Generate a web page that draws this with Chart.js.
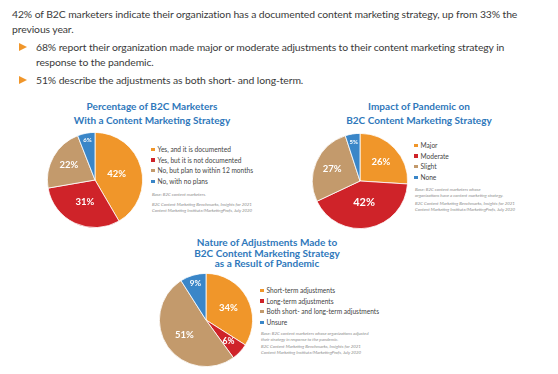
<!DOCTYPE html>
<html>
<head>
<meta charset="utf-8">
<script src="https://cdn.jsdelivr.net/npm/chart.js@4"></script>
<style>
  html, body { margin: 0; padding: 0; background: #fff; }
  body { width: 558px; height: 374px; position: relative; overflow: hidden; font-family: Lato, "Open Sans", sans-serif; color: #3a3a3a; }
  .abs { position: absolute; }
  .intro { left: 12px; top: 7px; font-size: 10.4px; letter-spacing: -0.1px; line-height: 15px; white-space: nowrap; }
  .bullet { left: 36px; font-size: 10.4px; letter-spacing: -0.1px; line-height: 15px; white-space: nowrap; }
  .tri { position: absolute; left: -17px; top: 3px; width: 0; height: 0;
         border-top: 4.5px solid transparent; border-bottom: 4.5px solid transparent; border-left: 8px solid #f0962a; }
  .title { color: #2f78bb; font-weight: bold; font-size: 10px; line-height: 13.5px; text-align: center; }
  .legend { font-size: 6.6px; line-height: 10.7px; color: #444; }
  .legend .sw { display: inline-block; width: 3.5px; height: 3.5px; margin-right: 3px; vertical-align: 1px; }
  .note { font-size: 4.4px; line-height: 6.2px; color: #8a8a8a; font-style: italic; }
  canvas { position: absolute; }
</style>
</head>
<body>
<div class="abs intro">42% of B2C marketers indicate their organization has a documented content marketing strategy, up from 33% the<br>previous year.</div>
<div class="abs bullet" style="top:40px"><span class="tri"></span>68% report their organization made major or moderate adjustments to their content marketing strategy in<br>response to the pandemic.</div>
<div class="abs bullet" style="top:73px"><span class="tri"></span>51% describe the adjustments as both short- and long-term.</div>

<div class="abs title" style="left:52px; width:200px; top:100px">Percentage of B2C Marketers<br>With a Content Marketing Strategy</div>
<div class="abs title" style="left:319px; width:200px; top:100px">Impact of Pandemic on<br>B2C Content Marketing Strategy</div>
<div class="abs title" style="left:167px; width:200px; top:237px; line-height:10.5px">Nature of Adjustments Made to<br>B2C Content Marketing Strategy<br>as a Result of Pandemic</div>

<canvas id="pie1" width="96" height="96" style="left:47px; top:132px"></canvas>
<canvas id="pie2" width="96" height="96" style="left:312px; top:133px"></canvas>
<canvas id="pie3" width="94" height="94" style="left:159px; top:273px"></canvas>

<div id="leg1" class="abs legend" style="left:151px; top:144px"></div>
<div class="abs note" style="left:152px; top:192px">Base: B2C content marketers.</div>
<div class="abs note" style="left:152px; top:202px">B2C Content Marketing Benchmarks, Insights for 2021<br>Content Marketing Institute/MarketingProfs, July 2020</div>

<div id="leg2" class="abs legend" style="left:414px; top:140px"></div>
<div class="abs note" style="left:415px; top:187px">Base: B2C content marketers whose<br>organizations have a content marketing strategy.</div>
<div class="abs note" style="left:415px; top:201px">B2C Content Marketing Benchmarks, Insights for 2021<br>Content Marketing Institute/MarketingProfs, July 2020</div>

<div id="leg3" class="abs legend" style="left:260px; top:285px"></div>
<div class="abs note" style="left:261px; top:331px">Base: B2C content marketers whose organizations adjusted<br>their strategy in response to the pandemic.</div>
<div class="abs note" style="left:261px; top:344px">B2C Content Marketing Benchmarks, Insights for 2021<br>Content Marketing Institute/MarketingProfs, July 2020</div>

<script>
// --- dati ---
const labelsStrategia = ['Yes, and it is documented', 'Yes, but it is not documented', 'No, but plan to within 12 months', 'No, with no plans'];
const valoriStrategia = [42, 31, 22, 6];

const labelsImpatto = ['Major', 'Moderate', 'Slight', 'None'];
const valoriImpatto = [26, 42, 27, 5];

const labelsNatura = ['Short-term adjustments', 'Long-term adjustments', 'Both short- and long-term adjustments', 'Unsure'];
const valoriNatura = [34, 6, 51, 9];

const colori = ['#f0962a', '#cf2329', '#c39a6c', '#3a86c8'];

// percentuali dentro le fette
const sliceLabels = {
  id: 'sliceLabels',
  afterDatasetsDraw(chart, args, opts) {
    const ctx = chart.ctx;
    const meta = chart.getDatasetMeta(0);
    const values = chart.data.datasets[0].data;
    meta.data.forEach((arc, i) => {
      const mid = (arc.startAngle + arc.endAngle) / 2;
      const r = arc.outerRadius * opts.radius[i];
      const x = arc.x + Math.cos(mid) * r;
      const y = arc.y + Math.sin(mid) * r;
      ctx.save();
      ctx.fillStyle = '#fff';
      ctx.font = `bold ${opts.size[i]}px Lato, sans-serif`;
      ctx.textAlign = 'center';
      ctx.textBaseline = 'middle';
      ctx.fillText(values[i] + '%', x, y);
      ctx.restore();
    });
  }
};

function creaTorta(id, labels, valori, radius, size) {
  new Chart(document.getElementById(id), {
    type: 'pie',
    data: {
      labels: labels,
      datasets: [{ data: valori, backgroundColor: colori, borderColor: '#fff', borderWidth: 0.8 }]
    },
    options: {
      responsive: false,
      animation: false,
      layout: { padding: 0 },
      plugins: {
        legend: { display: false },
        tooltip: { enabled: false },
        sliceLabels: { radius: radius, size: size }
      }
    },
    plugins: [sliceLabels]
  });
}

function creaLegenda(id, labels) {
  const el = document.getElementById(id);
  el.innerHTML = labels.map((l, i) =>
    `<div><span class="sw" style="background:${colori[i]}"></span>${l}</div>`).join('');
}

creaTorta('pie1', labelsStrategia, valoriStrategia, [0.47, 0.5, 0.63, 0.86], [9.5, 9.5, 9.5, 6]);
creaTorta('pie2', labelsImpatto, valoriImpatto, [0.6, 0.46, 0.64, 0.83], [9.5, 11, 9.5, 6]);
creaTorta('pie3', labelsNatura, valoriNatura, [0.55, 0.66, 0.56, 0.82], [9.5, 8.5, 9.5, 8]);

creaLegenda('leg1', labelsStrategia);
creaLegenda('leg2', labelsImpatto);
creaLegenda('leg3', labelsNatura);
</script>
</body>
</html>
